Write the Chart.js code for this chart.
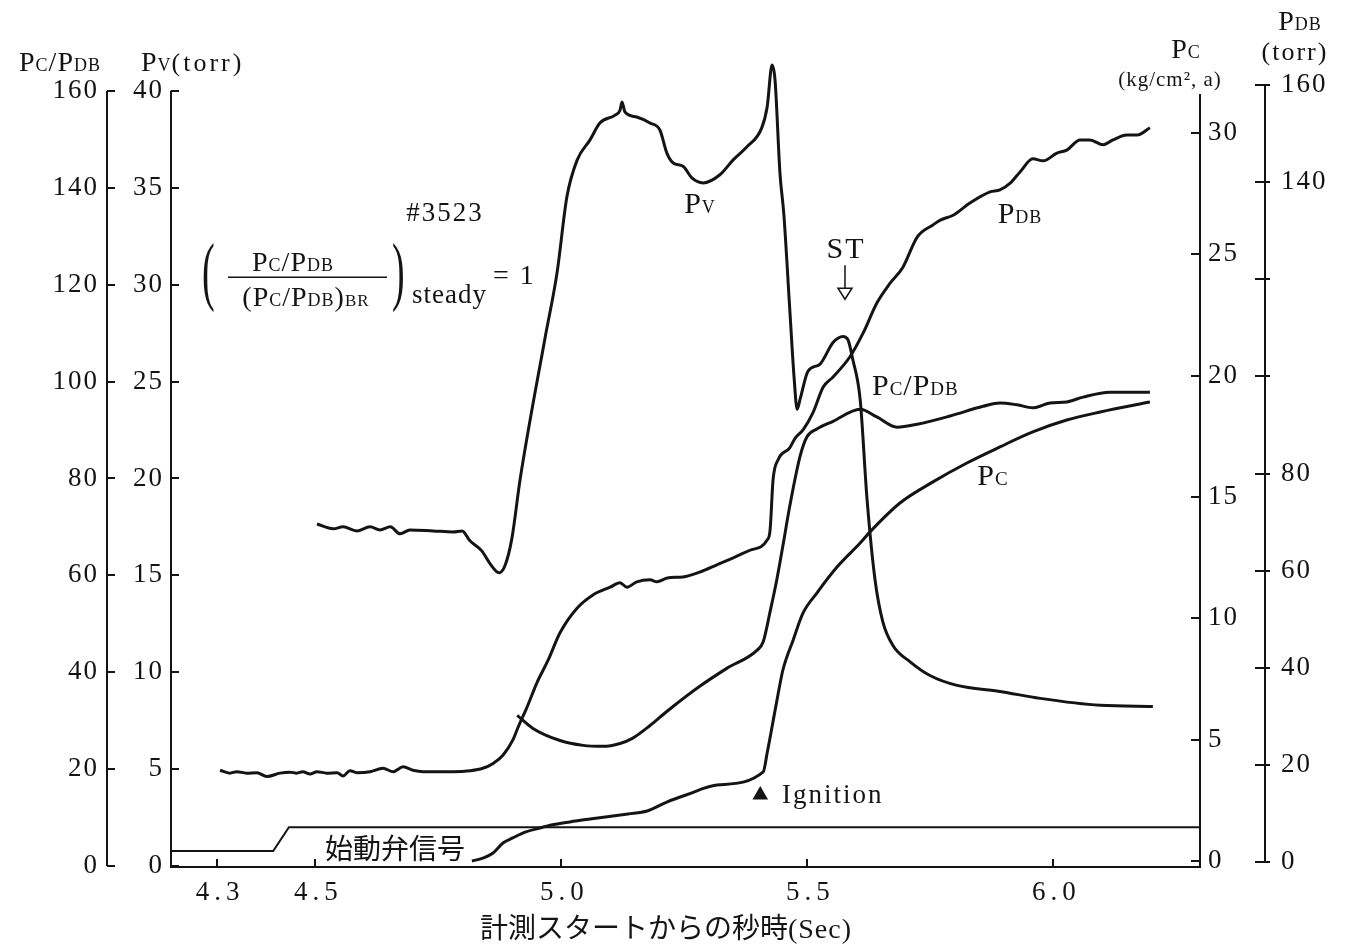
<!DOCTYPE html>
<html>
<head>
<meta charset="utf-8">
<title>#3523</title>
<script src="https://cdn.jsdelivr.net/npm/chart.js@4.4.1/dist/chart.umd.min.js"></script>
<style>
  html, body { margin: 0; padding: 0; background: #fff; }
</style>
</head>
<body>
<canvas id="chart" width="1346" height="946"></canvas>
<script>
// time axis (sec from measurement start)
var xMin = 4.2063, xMax = 6.2978;
var xTicks = [4.3, 4.5, 5.0, 5.5, 6.0];
var xTickLabels = ['4.3', '4.5', '5.0', '5.5', '6.0'];

// axis ticks
var ratioTicks = [0, 20, 40, 60, 80, 100, 120, 140, 160];
var pvTicks = [0, 5, 10, 15, 20, 25, 30, 35, 40];
var pcTicks = [0, 5, 10, 15, 20, 25, 30];
var pdbTicks = [0, 20, 40, 60, 80, 100, 120, 140, 160];
var pdbTickLabels = ['0', '20', '40', '60', '80', '', '', '140', '160'];

// Pv (torr)
var pvTime = [4.503, 4.536, 4.556, 4.584, 4.611, 4.631, 4.652, 4.672, 4.692, 4.739, 4.780, 4.798, 4.814, 4.838, 4.855, 4.873, 4.885, 4.899, 4.916, 4.966, 4.991, 5.011, 5.032, 5.058, 5.078, 5.109, 5.119, 5.123, 5.129, 5.153, 5.180, 5.200, 5.214, 5.227, 5.247, 5.265, 5.288, 5.322, 5.349, 5.377, 5.407, 5.418, 5.428, 5.434, 5.444, 5.452, 5.464, 5.473, 5.479, 5.485, 5.501, 5.525, 5.552, 5.572, 5.582, 5.592, 5.607, 5.621, 5.637, 5.653, 5.674, 5.708, 5.749, 5.804, 5.891, 5.973, 6.095, 6.202];
var pvValues = [17.65, 17.40, 17.50, 17.29, 17.50, 17.34, 17.50, 17.14, 17.34, 17.29, 17.24, 17.29, 16.78, 16.26, 15.59, 15.13, 15.49, 16.88, 19.97, 27.17, 30.62, 34.53, 36.44, 37.47, 38.34, 38.75, 39.00, 39.42, 38.91, 38.65, 38.34, 37.98, 36.80, 36.28, 36.11, 35.51, 35.25, 35.67, 36.44, 37.11, 38.09, 39.17, 41.33, 40.56, 35.77, 33.61, 28.72, 25.12, 23.57, 24.09, 25.53, 25.89, 27.02, 27.33, 27.17, 26.15, 24.09, 18.94, 14.82, 12.61, 11.37, 10.55, 9.83, 9.32, 9.01, 8.65, 8.29, 8.23];

// PDB (torr)
var pdbTime = [4.306, 4.326, 4.340, 4.360, 4.381, 4.401, 4.428, 4.448, 4.462, 4.474, 4.489, 4.503, 4.523, 4.544, 4.556, 4.570, 4.584, 4.611, 4.637, 4.658, 4.678, 4.698, 4.719, 4.747, 4.780, 4.814, 4.840, 4.861, 4.881, 4.901, 4.912, 4.930, 4.950, 4.973, 4.997, 5.032, 5.064, 5.099, 5.119, 5.133, 5.153, 5.180, 5.194, 5.215, 5.247, 5.281, 5.316, 5.348, 5.383, 5.418, 5.424, 5.430, 5.440, 5.464, 5.475, 5.491, 5.511, 5.532, 5.552, 5.586, 5.613, 5.641, 5.668, 5.694, 5.723, 5.755, 5.770, 5.796, 5.830, 5.871, 5.891, 5.912, 5.932, 5.958, 5.979, 6.007, 6.027, 6.054, 6.074, 6.101, 6.121, 6.149, 6.170, 6.196];
var pdbValues = [18.9, 18.3, 18.6, 18.3, 18.4, 17.6, 18.3, 18.5, 18.3, 18.6, 18.1, 18.6, 18.3, 18.4, 17.7, 18.8, 18.4, 18.6, 19.3, 18.6, 19.6, 18.9, 18.6, 18.6, 18.6, 18.8, 19.3, 20.3, 22.0, 25.1, 27.8, 31.9, 36.9, 41.6, 47.2, 52.3, 55.0, 56.6, 57.5, 56.6, 57.7, 58.1, 57.7, 58.5, 58.7, 59.7, 61.2, 62.6, 64.2, 66.3, 68.4, 78.7, 82.8, 85.3, 87.3, 89.0, 92.5, 97.8, 99.9, 104.0, 108.9, 115.1, 119.2, 122.5, 128.7, 131.2, 132.2, 133.2, 135.7, 138.0, 138.4, 139.8, 142.1, 144.8, 144.4, 146.0, 146.6, 148.7, 148.7, 147.7, 148.7, 149.7, 149.7, 151.2];

// Pc/PDB
var ratioTime = [4.910, 4.942, 4.997, 5.044, 5.084, 5.119, 5.145, 5.180, 5.214, 5.281, 5.336, 5.397, 5.410, 5.424, 5.438, 5.450, 5.464, 5.485, 5.499, 5.519, 5.552, 5.607, 5.641, 5.682, 5.723, 5.790, 5.857, 5.891, 5.926, 5.958, 5.993, 6.027, 6.060, 6.115, 6.196];
var ratioValues = [31.1, 28.4, 25.9, 24.9, 24.7, 25.3, 26.4, 29.0, 31.9, 37.1, 40.8, 44.5, 46.3, 52.5, 59.3, 66.1, 74.3, 84.6, 88.6, 90.2, 91.8, 94.3, 92.7, 90.6, 91.2, 92.9, 94.9, 95.6, 95.2, 94.6, 95.6, 95.8, 96.8, 97.8, 97.8];

// Pc (kg/cm2,a)
var pcTime = [4.818, 4.840, 4.861, 4.881, 4.901, 4.926, 4.956, 4.979, 5.017, 5.058, 5.135, 5.174, 5.214, 5.253, 5.316, 5.410, 5.418, 5.438, 5.450, 5.471, 5.491, 5.519, 5.560, 5.607, 5.627, 5.688, 5.755, 5.824, 5.891, 5.958, 6.027, 6.095, 6.196];
var pcValues = [0.0, 0.12, 0.33, 0.74, 0.95, 1.19, 1.36, 1.48, 1.61, 1.73, 1.94, 2.06, 2.43, 2.72, 3.13, 3.67, 4.45, 6.63, 7.87, 9.11, 10.22, 11.04, 12.11, 13.10, 13.56, 14.75, 15.62, 16.40, 17.06, 17.68, 18.17, 18.50, 18.91];

// start valve signal (drawn on the Pc/PDB scale)
var valveTime = [4.2063, 4.414, 4.446, 6.2978];
var valveLevel = [3.1, 3.1, 8.0, 8.0];

// ignition mark (Pc scale)
var ignitionTime = [5.404];
var ignitionLevel = [2.72];

var INK = '#141414';
var SERIF = '"Liberation Serif", "DejaVu Serif", serif';
var CJK = '"Noto Sans CJK JP", sans-serif';

function pts(xs, ys) {
    return xs.map(function(x, i) { return { x: x, y: ys[i] }; });
}

// rich text: parts = [text, size, spacing, family]
function rich(ctx, parts, x, y, align) {
    var total = 0, widths = [];
    parts.forEach(function(p) {
        ctx.font = p[1] + 'px ' + (p[3] || SERIF);
        ctx.letterSpacing = (p[2] || 0) + 'px';
        var w = ctx.measureText(p[0]).width;
        widths.push(w);
        total += w;
    });
    var cx = align === 'center' ? x - total / 2 : (align === 'right' ? x - total : x);
    ctx.textAlign = 'left';
    ctx.textBaseline = 'alphabetic';
    parts.forEach(function(p, i) {
        ctx.font = p[1] + 'px ' + (p[3] || SERIF);
        ctx.letterSpacing = (p[2] || 0) + 'px';
        ctx.fillText(p[0], cx, y);
        cx += widths[i];
    });
    ctx.letterSpacing = '0px';
}

function paren(ctx, ch, x, yc, h) {
    ctx.save();
    ctx.translate(x, yc);
    ctx.scale(0.5, 1);
    ctx.font = Math.round(h * 1.12) + 'px ' + SERIF;
    ctx.textAlign = 'left';
    ctx.textBaseline = 'middle';
    ctx.fillText(ch, 0, -4);
    ctx.restore();
}

// axis spines: value span and tick extent (px, relative to the spine)
var axisDeco = [
    { id: 'yPcPdb', span: [0, 160], tick: [0, 8] },
    { id: 'yPv', span: [0, 40], tick: [0, 8] },
    { id: 'yPc', span: [-0.25, 31.6], tick: [-9, 0] },
    { id: 'yPdb', span: [0, 160], tick: [-10, 5] }
];

// labels placed in (sec, Pc/PDB) coordinates
var notes = [
    { at: [5.2815, 136.9], align: 'center', parts: [['P', 30, 1], ['V', 18, 1]] },
    { at: [5.9319, 134.7], align: 'center', parts: [['P', 30, 1], ['DB', 18, 1]] },
    { at: [5.6311, 99.3], align: 'left', parts: [['P', 30, 1], ['C', 19, 1], ['/', 30, 1], ['P', 30, 1], ['DB', 19, 1]] },
    { at: [5.877, 80.7], align: 'center', parts: [['P', 30, 1], ['C', 19, 1]] },
    { at: [5.5783, 127.5], align: 'center', parts: [['ST', 30, 2]] },
    { at: [4.7632, 135.3], align: 'center', parts: [['#', 27, 2], ['3523', 27, 2]] },
    { at: [5.4482, 15.0], align: 'left', parts: [['Ignition', 27, 2]] },
    { at: [4.6616, 3.5], align: 'center', parts: [['始動弁信号', 28, 0, CJK]] }
];
var stArrow = { x: 5.5762, from: 124.0, to: 117.0 };
var formulaAt = [4.2693, 120.9];
var xTitleAt = 5.2124;

var paperPlugin = {
    id: 'paper',
    beforeDraw: function(chart) {
        chart.ctx.letterSpacing = '2px';
    },
    afterDraw: function(chart) {
        var ctx = chart.ctx, s = chart.scales, area = chart.chartArea;
        ctx.save();
        ctx.letterSpacing = '0px';
        ctx.strokeStyle = INK;
        ctx.fillStyle = INK;
        ctx.lineWidth = 2;

        // y spines and inward ticks
        axisDeco.forEach(function(a) {
            var sc = s[a.id];
            var ax = sc.position === 'left' ? sc.right : sc.left;
            ctx.beginPath();
            ctx.moveTo(ax, sc.getPixelForValue(a.span[0]));
            ctx.lineTo(ax, sc.getPixelForValue(a.span[1]));
            sc.ticks.forEach(function(t) {
                var py = Math.round(sc.getPixelForValue(t.value));
                ctx.moveTo(ax + a.tick[0], py);
                ctx.lineTo(ax + a.tick[1], py);
            });
            ctx.stroke();
        });

        // x ticks + labels
        ctx.beginPath();
        s.x.ticks.forEach(function(t) {
            var px = Math.round(s.x.getPixelForValue(t.value));
            ctx.moveTo(px, area.bottom);
            ctx.lineTo(px, area.bottom - 8);
        });
        ctx.stroke();
        xTicks.forEach(function(v, i) {
            rich(ctx, [[xTickLabels[i], 27, 5]], s.x.getPixelForValue(v) + 3, area.bottom + 33, 'center');
        });
        rich(ctx, [['計測スタートからの秒時', 28, 0, CJK], ['(Sec)', 28, 1]],
            s.x.getPixelForValue(xTitleAt), area.bottom + 71, 'center');

        // axis titles
        rich(ctx, [['P', 28, 1], ['C', 18, 1], ['/', 28, 1], ['P', 28, 1], ['DB', 18, 1]], s.yPcPdb.right - 47, 71, 'center');
        rich(ctx, [['P', 28, 1], ['V', 18, 1], ['(torr)', 26, 3]], s.yPv.right - 30, 71, 'left');
        rich(ctx, [['P', 28, 1], ['C', 18, 1]], s.yPc.left - 14, 58, 'center');
        rich(ctx, [['(kg/cm², a)', 21, 1]], s.yPc.left - 30, 86, 'center');
        rich(ctx, [['P', 28, 1], ['DB', 18, 1]], s.yPdb.left + 35, 30, 'center');
        rich(ctx, [['(torr)', 26, 2]], s.yPdb.left + 30, 60, 'center');

        // curve labels
        notes.forEach(function(n) {
            var px = s.x.getPixelForValue(n.at[0]);
            var py = s.yPcPdb.getPixelForValue(n.at[1]);
            rich(ctx, n.parts, px, py + 10, n.align);
        });

        // ST arrow (open head)
        var axp = s.x.getPixelForValue(stArrow.x);
        var y0 = s.yPcPdb.getPixelForValue(stArrow.from);
        var y1 = s.yPcPdb.getPixelForValue(stArrow.to);
        ctx.lineWidth = 1.5;
        ctx.beginPath();
        ctx.moveTo(axp, y0);
        ctx.lineTo(axp, y1 - 11);
        ctx.moveTo(axp - 7, y1 - 11);
        ctx.lineTo(axp + 7, y1 - 11);
        ctx.lineTo(axp, y1);
        ctx.closePath();
        ctx.stroke();

        // formula
        var fx = s.x.getPixelForValue(formulaAt[0]);
        var fy = s.yPcPdb.getPixelForValue(formulaAt[1]);
        paren(ctx, '(', fx, fy, 68);
        rich(ctx, [['P', 28, 1], ['C', 18, 1], ['/', 28, 1], ['P', 28, 1], ['DB', 18, 1]], fx + 91, fy - 9, 'center');
        ctx.lineWidth = 1.5;
        ctx.beginPath();
        ctx.moveTo(fx + 26, fy - 3);
        ctx.lineTo(fx + 185, fy - 3);
        ctx.stroke();
        rich(ctx, [['(', 28, 1], ['P', 28, 1], ['C', 18, 1], ['/', 28, 1], ['P', 28, 1], ['DB', 18, 1], [')', 28, 1], ['BR', 17, 1]], fx + 104, fy + 26, 'center');
        paren(ctx, ')', fx + 190, fy, 68);
        rich(ctx, [['steady', 27, 1]], fx + 210, fy + 23, 'left');
        rich(ctx, [['= 1', 28, 2]], fx + 291, fy + 4, 'left');

        ctx.restore();
    }
};

function yAxis(pos, weight, lo, hi, ticks, pad, width, labels) {
    return {
        type: 'linear',
        position: pos,
        weight: weight,
        min: lo,
        max: hi,
        afterBuildTicks: function(sc) {
            sc.ticks = ticks.map(function(v) { return { value: v }; });
        },
        afterFit: function(sc) { sc.width = width; },
        grid: { display: false, drawTicks: false },
        border: { display: false },
        ticks: {
            padding: pad,
            color: INK,
            autoSkip: false,
            font: { family: SERIF, size: 27 },
            callback: function(v, i) { return labels ? labels[i] : String(v); }
        }
    };
}

new Chart(document.getElementById('chart'), {
    type: 'line',
    data: {
        datasets: [
            { label: 'Pv', data: pts(pvTime, pvValues), yAxisID: 'yPv' },
            { label: 'PDB', data: pts(pdbTime, pdbValues), yAxisID: 'yPdb' },
            { label: 'Pc/PDB', data: pts(ratioTime, ratioValues), yAxisID: 'yPcPdb' },
            { label: 'Pc', data: pts(pcTime, pcValues), yAxisID: 'yPc' },
            { label: '始動弁信号', data: pts(valveTime, valveLevel), yAxisID: 'yPcPdb',
              borderWidth: 2, cubicInterpolationMode: 'default', tension: 0 },
            { label: 'Ignition', data: pts(ignitionTime, ignitionLevel), yAxisID: 'yPc',
              showLine: false, pointStyle: 'triangle', pointRadius: 9,
              pointBackgroundColor: INK, pointBorderColor: INK, pointBorderWidth: 0 }
        ]
    },
    options: {
        responsive: false,
        animation: false,
        layout: { padding: { top: 55, left: 0, right: 0, bottom: 0 } },
        plugins: { legend: { display: false }, tooltip: { enabled: false } },
        elements: {
            line: { borderColor: INK, borderWidth: 3, cubicInterpolationMode: 'monotone', fill: false },
            point: { radius: 0 }
        },
        scales: {
            x: {
                type: 'linear',
                min: xMin,
                max: xMax,
                afterBuildTicks: function(sc) {
                    sc.ticks = xTicks.map(function(v) { return { value: v }; });
                },
                afterFit: function(sc) { sc.height = 79; },
                grid: { display: false, drawTicks: false },
                border: { display: true, color: INK, width: 2 },
                ticks: { display: false }
            },
            yPv: yAxis('left', 1, -0.0515, 41.85, pvTicks, 7, 64),
            yPcPdb: yAxis('left', 2, -0.206, 167.42, ratioTicks, 8, 107),
            yPc: yAxis('right', 1, -0.247, 33.21, pcTicks, 8, 65),
            yPdb: yAxis('right', 2, -1.03, 166.19, pdbTicks, 16, 81, pdbTickLabels)
        }
    },
    plugins: [paperPlugin]
});
</script>
</body>
</html>
